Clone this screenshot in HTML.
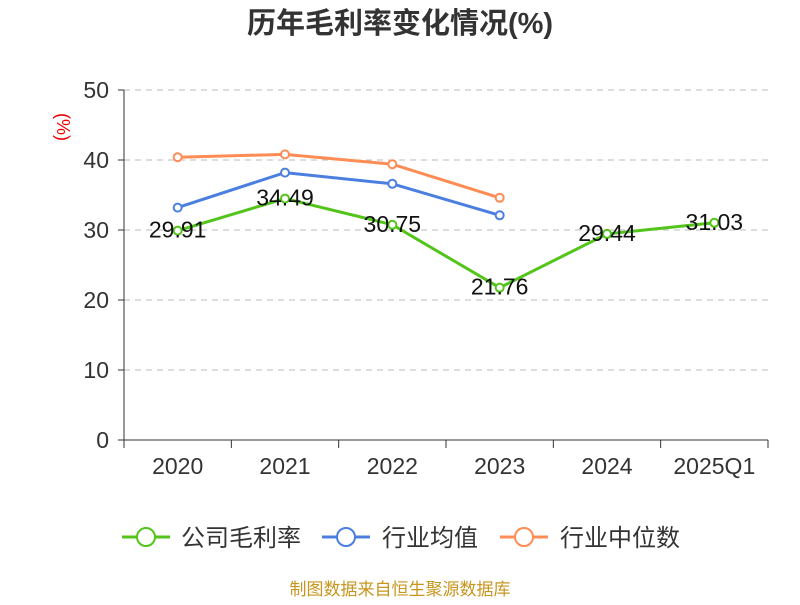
<!DOCTYPE html>
<html><head><meta charset="utf-8"><style>
body{margin:0;background:#fff;width:800px;height:600px;overflow:hidden;font-family:"Liberation Sans","Noto Sans CJK SC",sans-serif}
</style></head><body>
<svg id="c" width="800" height="600" xmlns="http://www.w3.org/2000/svg" font-family="Liberation Sans, Noto Sans CJK SC, sans-serif">
<text x="400" y="33" text-anchor="middle" font-size="29" font-weight="bold" fill="#333">历年毛利率变化情况(%)</text>
<text transform="translate(57,127) rotate(90)" text-anchor="middle" font-size="18" fill="#e00">(%)</text>
<g id="grid"></g><g id="axes"></g><g id="series"></g>
<g font-size="24" fill="#333">
<g><line x1="122" y1="537" x2="170" y2="537" stroke="#52c41a" stroke-width="3"/><circle cx="146" cy="537" r="9" fill="#fff" stroke="#52c41a" stroke-width="2"/><text x="181" y="546">公司毛利率</text></g>
<g><line x1="322" y1="537" x2="370" y2="537" stroke="#4a7fe0" stroke-width="3"/><circle cx="346" cy="537" r="9" fill="#fff" stroke="#4a7fe0" stroke-width="2"/><text x="382" y="546">行业均值</text></g>
<g><line x1="500" y1="537" x2="548" y2="537" stroke="#ff8c55" stroke-width="3"/><circle cx="524" cy="537" r="9" fill="#fff" stroke="#ff8c55" stroke-width="2"/><text x="560" y="546">行业中位数</text></g>
</g>
<text x="400" y="595" text-anchor="middle" font-size="17" fill="#c8961e">制图数据来自恒生聚源数据库</text>
</svg>
<script>
const categories=["2020","2021","2022","2023","2024","2025Q1"];
const company=[29.91,34.49,30.75,21.76,29.44,31.03];
const industryAvg=[33.2,38.2,36.6,32.1,null,null];
const industryMedian=[40.4,40.8,39.4,34.6,null,null];
const yTicks=[0,10,20,30,40,50];
const NS="http://www.w3.org/2000/svg";
const x0=124,x1=768,y0=440,yTop=90;
const bw=(x1-x0)/categories.length;
const xs=i=>x0+bw*(i+0.5);
const ys=v=>y0-(v/50)*(y0-yTop);
function mk(t,a,p){const e=document.createElementNS(NS,t);for(const k in a)e.setAttribute(k,a[k]);p.appendChild(e);return e;}
const grid=document.getElementById('grid'),axes=document.getElementById('axes'),ser=document.getElementById('series');
yTicks.forEach(v=>{
 if(v>0){const g=mk('line',{x1:x0,x2:x1,y1:ys(v),y2:ys(v),stroke:'#bbb','stroke-dasharray':'6,5'},grid);
 
 }
 const tk=mk('line',{x1:x0-6,x2:x0,y1:ys(v),y2:ys(v),stroke:'#333'},axes);
 
 
 const t=mk('text',{x:x0-15,y:ys(v)+8,'text-anchor':'end','font-size':23,fill:'#333'},axes);t.textContent=v;
 
 
});
const ya=mk('line',{x1:x0,x2:x0,y1:yTop,y2:y0,stroke:'#333'},axes);


const xa=mk('line',{x1:x0,x2:x1,y1:y0,y2:y0,stroke:'#333'},axes);


for(let i=0;i<=categories.length;i++){const l=mk('line',{x1:x0+bw*i,x2:x0+bw*i,y1:y0,y2:y0+8,stroke:'#333'},axes);
 
 }
categories.forEach((c,i)=>{const t=mk('text',{x:xs(i),y:y0+34,'text-anchor':'middle','font-size':23,fill:'#333'},axes);t.textContent=c;
 
 });
function line(data,color,name,labels){
 const pts=data.map((v,i)=>v==null?null:[xs(i),ys(v)]).filter(p=>p);
 const pl=mk('polyline',{points:pts.map(p=>p.join(',')).join(' '),fill:'none',stroke:color,'stroke-width':3},ser);
 
 
 data.forEach((v,i)=>{if(v==null)return;
  const c=mk('circle',{cx:xs(i),cy:ys(v),r:4,fill:'#fff',stroke:color,'stroke-width':2},ser);
  
  
  if(labels){const t=mk('text',{x:xs(i),y:ys(v)+7,'text-anchor':'middle','font-size':23,fill:'#111'},ser);t.textContent=v.toFixed(2);
   
   }
 });
}
line(industryMedian,'#ff8c55','industry-median',false);
line(industryAvg,'#4a7fe0','industry-avg',false);
line(company,'#52c41a','company',true);
</script>
</body></html>
